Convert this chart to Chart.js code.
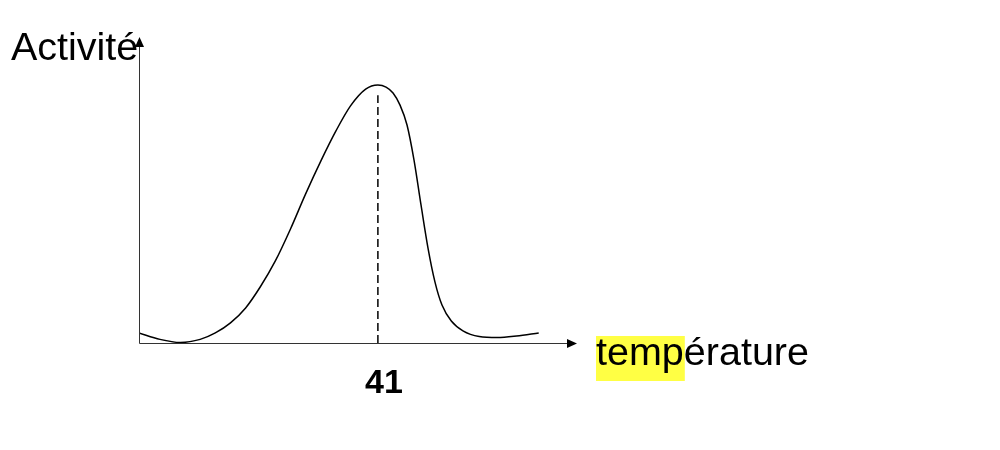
<!DOCTYPE html>
<html>
<head>
<meta charset="utf-8">
<script src="https://cdn.jsdelivr.net/npm/chart.js@4/dist/chart.umd.min.js"></script>
<style>
  html, body { margin: 0; padding: 0; background: #fff; }
  #wrap { width: 1000px; height: 450px; position: relative; }
</style>
</head>
<body>
<div id="wrap"><canvas id="c" width="1000" height="450"></canvas></div>
<script>
// Data (temperature in arbitrary units, optimum at 41)
const temperatures = [0, 3.6, 7.1, 10.5, 13.1, 15.7, 18.3, 20.8, 23.4, 26.0, 28.6, 31.2, 33.8, 36.3, 38.9, 41, 42.4, 43.6, 44.8, 46.0, 47.2, 48.4, 49.6, 50.8, 52.0, 53.6, 55.6, 58.4, 61.5, 64.8, 68.6];
const activity     = [3.9, 1.4, 0.2, 1.4, 3.9, 7.8, 13.6, 21.7, 31.8, 44.2, 57.8, 70.5, 82.2, 91.9, 98.4, 100, 99.2, 96.9, 92.2, 84.5, 70.9, 53.5, 36.8, 23.6, 14.7, 8.5, 4.7, 2.5, 2.1, 2.7, 3.9];
const optimumTemp = 41;
const optimumLineTop = 96;
const optimumLabel = "41";
const yAxisTitle = "Activité";
const xAxisTitle = "température";
const highlightedPart = "temp";

const curve = temperatures.map((t, i) => ({ x: t, y: activity[i] }));
const optimumLine = [{ x: optimumTemp, y: 0 }, { x: optimumTemp, y: optimumLineTop }];

const FONT = '"Liberation Sans", Arial, sans-serif';

const decor = {
  id: 'decor',
  afterDatasetsDraw(chart) {
    const ctx = chart.ctx;
    const a = chart.chartArea;
    const xs = chart.scales.x;
    ctx.save();
    // axes
    ctx.strokeStyle = '#333';
    ctx.lineWidth = 1;
    const ax = Math.round(a.left) + 0.5;
    const ay = Math.round(a.bottom) + 0.5;
    ctx.beginPath();
    ctx.moveTo(ax, ay);
    ctx.lineTo(ax, a.top + 6);
    ctx.moveTo(ax, ay);
    ctx.lineTo(a.right - 6, ay);
    ctx.stroke();
    // arrow heads
    ctx.fillStyle = '#000';
    ctx.beginPath();
    ctx.moveTo(ax, a.top);
    ctx.lineTo(ax - 4.5, a.top + 10);
    ctx.lineTo(ax + 4.5, a.top + 10);
    ctx.closePath();
    ctx.fill();
    ctx.beginPath();
    ctx.moveTo(a.right + 1, ay);
    ctx.lineTo(a.right - 9, ay - 4.5);
    ctx.lineTo(a.right - 9, ay + 4.5);
    ctx.closePath();
    ctx.fill();

    // y title
    ctx.fillStyle = '#000';
    ctx.textBaseline = 'alphabetic';
    ctx.textAlign = 'left';
    ctx.font = '39.5px ' + FONT;
    ctx.fillText(yAxisTitle, 11, 60);

    // x title with highlight
    ctx.font = '39.5px ' + FONT;
    const tx = 596, ty = 365;
    const hw = ctx.measureText(highlightedPart).width;
    ctx.fillStyle = '#ffff44';
    ctx.fillRect(tx, 336, hw + 1, 45);
    ctx.fillStyle = '#000';
    ctx.fillText(xAxisTitle, tx, ty);

    // optimum label
    ctx.font = 'bold 34px ' + FONT;
    ctx.textAlign = 'center';
    ctx.fillText(optimumLabel, xs.getPixelForValue(optimumTemp) + 6, 393);
    ctx.restore();
  }
};

new Chart(document.getElementById('c'), {
  type: 'scatter',
  data: {
    datasets: [
      {
        data: curve,
        showLine: true,
        borderColor: '#000',
        borderWidth: 1.5,
        pointRadius: 0,
        cubicInterpolationMode: 'monotone',
        fill: false
      },
      {
        data: optimumLine,
        showLine: true,
        borderColor: '#000',
        borderWidth: 1.5,
        borderDash: [8, 4],
        pointRadius: 0,
        fill: false
      }
    ]
  },
  options: {
    responsive: false,
    animation: false,
    events: [],
    layout: { padding: { left: 139, right: 424, top: 37, bottom: 107 } },
    plugins: { legend: { display: false }, tooltip: { enabled: false } },
    scales: {
      x: { type: 'linear', display: false, min: 0, max: 75 },
      y: { type: 'linear', display: false, min: 0, max: 118.6 }
    }
  },
  plugins: [decor]
});
</script>
</body>
</html>
